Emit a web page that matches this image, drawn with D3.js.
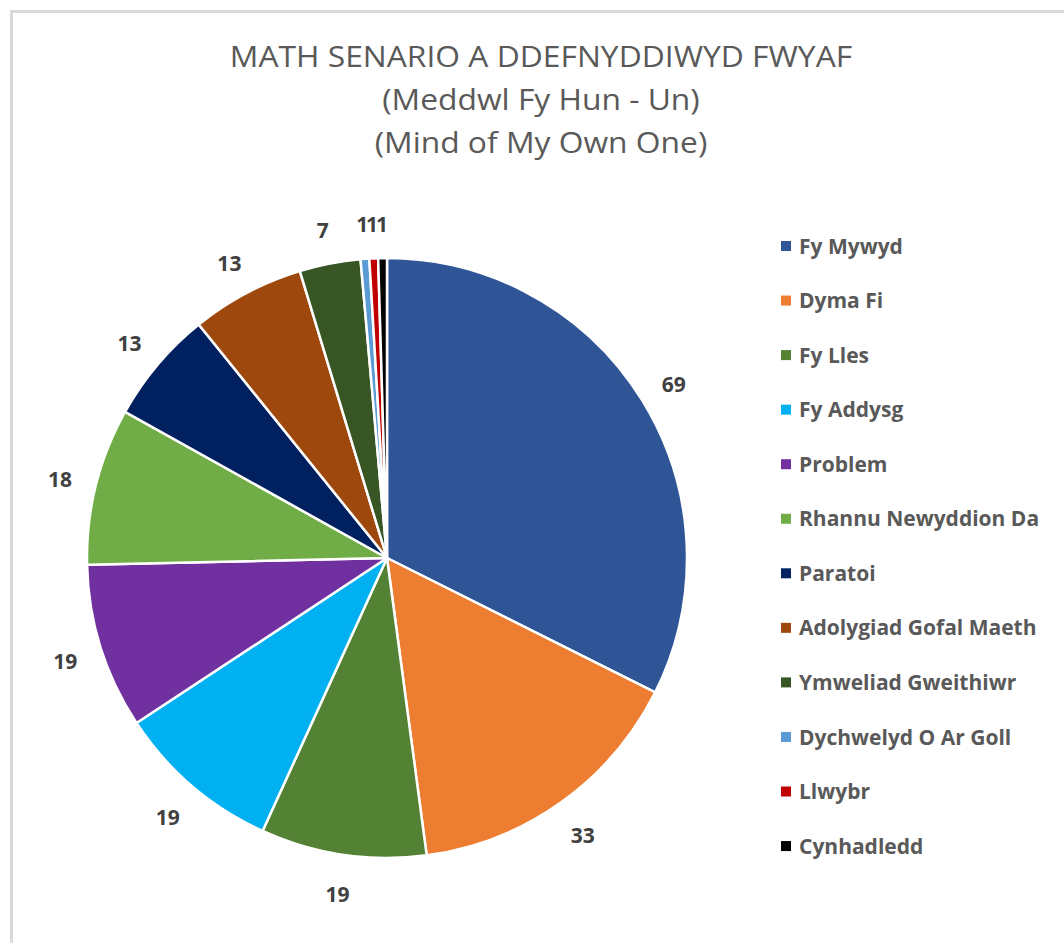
<!DOCTYPE html>
<html>
<head>
<meta charset="utf-8">
<script src="https://cdn.jsdelivr.net/npm/d3@7"></script>
<style>
  body { margin: 0; background: #fff; }
  text { font-family: "Open Sans", "Noto Sans", sans-serif; }
</style>
</head>
<body>
<div id="chart"></div>
<script>
const categories = [
  "Fy Mywyd", "Dyma Fi", "Fy Lles", "Fy Addysg", "Problem",
  "Rhannu Newyddion Da", "Paratoi", "Adolygiad Gofal Maeth",
  "Ymweliad Gweithiwr", "Dychwelyd O Ar Goll", "Llwybr", "Cynhadledd"
];
const values = [69, 33, 19, 19, 19, 18, 13, 13, 7, 1, 1, 1];
const colors = [
  "#2F5597", "#ED7D31", "#548235", "#00B0F0", "#7030A0", "#70AD47",
  "#002060", "#9E480E", "#375623", "#5B9BD5", "#C00000", "#000000"
];
const titleLines = [
  "MATH SENARIO A DDEFNYDDIWYD FWYAF",
  "(Meddwl Fy Hun - Un)",
  "(Mind of My Own One)"
];

const W = 1064, H = 943;
const cx = 387, cy = 558, radius = 300, labelRadius = 337;

const svg = d3.select("#chart").append("svg")
  .attr("width", W).attr("height", H)
  .attr("viewBox", `0 0 ${W} ${H}`);

// chart area border (only top and left visible)
svg.append("path")
  .attr("d", `M11.5,${H} V11.5 H${W}`)
  .attr("fill", "none")
  .attr("stroke", "#d9d9d9")
  .attr("stroke-width", 3);

// title
const title = svg.append("g").attr("fill", "#595959");
titleLines.forEach((t, i) => {
  title.append("text")
    .attr("x", 541)
    .attr("y", 67 + i * 43)
    .attr("text-anchor", "middle")
    .attr("font-size", 30)
    .attr("transform", `translate(541,0) scale(1.06,1) translate(-541,0)`)
    .text(t);
});

const data = categories.map((c, i) => ({ name: c, value: values[i], color: colors[i] }));

const pie = d3.pie().value((d) => d.value).sort(null);
const arcs = pie(data);

const arc = d3.arc().innerRadius(0).outerRadius(radius);
const labelArc = d3.arc().innerRadius(labelRadius).outerRadius(labelRadius);

const g = svg.append("g").attr("transform", `translate(${cx},${cy})`);

g.selectAll("path.slice")
  .data(arcs)
  .join("path")
  .attr("class", "slice")
  .attr("d", arc)
  .attr("fill", (d) => d.data.color)
  .attr("stroke", "#fff")
  .attr("stroke-width", 2.5)
  .attr("stroke-linejoin", "round");

g.selectAll("text.lbl")
  .data(arcs)
  .join("text")
  .attr("class", "lbl")
  .attr("transform", (d) => {
    const [x, y] = labelArc.centroid(d);
    return `translate(${x},${y + 3})`;
  })
  .attr("text-anchor", "middle")
  .attr("dy", "0.36em")
  .attr("font-size", 21)
  .attr("font-weight", "bold")
  .attr("fill", "#404040")
  .text((d) => d.data.value);

// legend
const legend = svg.append("g").attr("transform", "translate(781,246)");
const rowH = 54.55;
const item = legend.selectAll("g")
  .data(data)
  .join("g")
  .attr("transform", (d, i) => `translate(0,${i * rowH})`);

item.append("rect")
  .attr("x", 0).attr("y", -5)
  .attr("width", 10).attr("height", 10)
  .attr("fill", (d) => d.color);

item.append("text")
  .attr("x", 18)
  .attr("dy", "0.36em")
  .attr("font-size", 21)
  .attr("font-weight", "bold")
  .attr("fill", "#595959")
  .text((d) => d.name);
</script>
</body>
</html>
